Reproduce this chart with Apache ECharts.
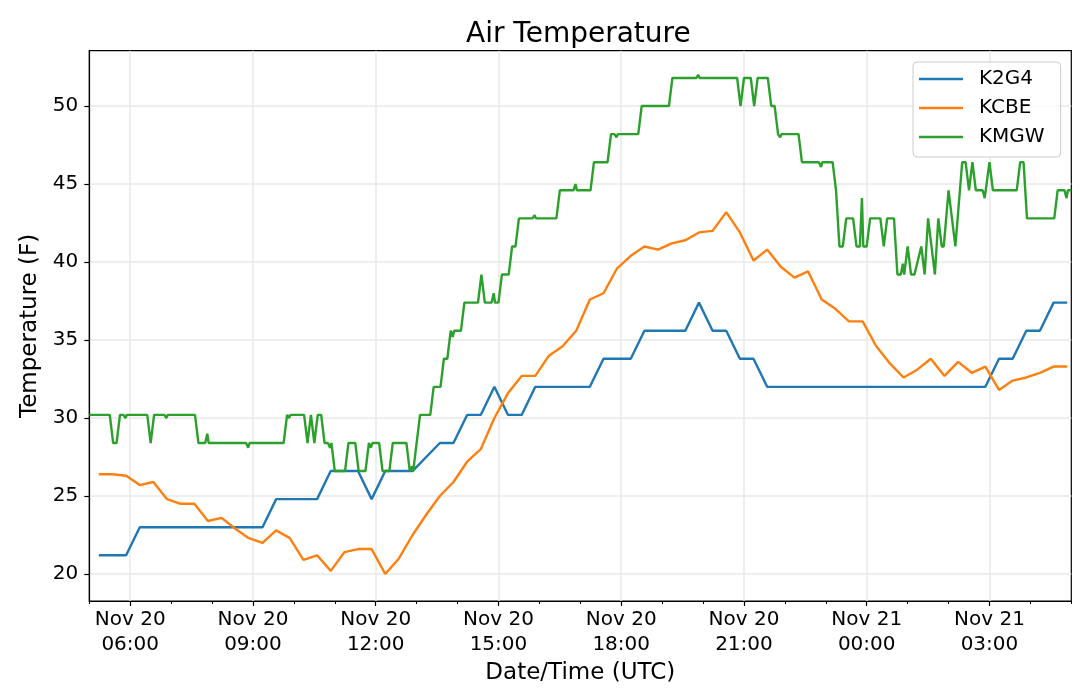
<!DOCTYPE html>
<html>
<head>
<meta charset="utf-8">
<title>Air Temperature</title>
<script src="https://cdn.jsdelivr.net/npm/echarts@6.0.0/dist/echarts.min.js"></script>
<style>
    html, body { margin: 0; padding: 0; background: #fff; }
    #chart { width: 1080px; height: 690px; }
</style>
</head>
<body>
<div id="chart"></div>
<script>
'use strict';

var stationNames = ['K2G4', 'KCBE', 'KMGW'];
var stationColors = ['#1f77b4', '#ff7f0e', '#2ca02c'];

// K2G4 and KCBE report every 20 minutes starting 05:14 UTC (72 reports)
var firstReport = '05:14';
var reportStepMin = 20;

var k2g4Temps = [
    21.2, 21.2, 21.2, 23.0, 23.0, 23.0, 23.0, 23.0, 23.0, 23.0,
    23.0, 23.0, 23.0, 24.8, 24.8, 24.8, 24.8, 26.6, 26.6, 26.6,
    24.8, 26.6, 26.6, 26.6, null, 28.4, 28.4, 30.2, 30.2, 32.0,
    30.2, 30.2, 32.0, 32.0, 32.0, 32.0, 32.0, 33.8, 33.8, 33.8,
    35.6, 35.6, 35.6, 35.6, 37.4, 35.6, 35.6, 33.8, 33.8, 32.0,
    32.0, 32.0, 32.0, 32.0, 32.0, 32.0, 32.0, 32.0, 32.0, 32.0,
    32.0, 32.0, 32.0, 32.0, 32.0, 32.0, 33.8, 33.8, 35.6, 35.6,
    37.4, 37.4
];

var kcbeTemps = [
    26.4, 26.4, 26.3, 25.7, 25.9, 24.8, 24.5, 24.5, 23.4, 23.6,
    22.9, 22.3, 22.0, 22.8, 22.3, 20.9, 21.2, 20.2, 21.4, 21.6,
    21.6, 20.0, 21.0, 22.5, 23.8, 25.0, 25.9, 27.2, 28.0, 30.0,
    31.6, 32.7, 32.7, 34.0, 34.6, 35.6, 37.6, 38.0, 39.6, 40.4,
    41.0, 40.8, 41.2, 41.4, 41.9, 42.0, 43.2, 41.9, 40.1, 40.8,
    39.7, 39.0, 39.4, 37.6, 37.0, 36.2, 36.2, 34.6, 33.5, 32.6,
    33.1, 33.8, 32.7, 33.6, 32.9, 33.3, 31.8, 32.4, 32.6, 32.9,
    33.3, 33.3
];

// KMGW: 5-minute reports plus hourly :53 reports (only the turning points)
var kmgwTimes = [
    '05:00', '05:30', '05:35', '05:40', '05:45', '05:50', '05:53', '05:55',
    '06:25', '06:30', '06:35', '06:50', '06:53', '06:55',
    '07:35', '07:40', '07:50', '07:53', '07:55',
    '08:50', '08:53', '08:55',
    '09:45', '09:50', '09:53', '09:55',
    '10:15', '10:20', '10:25', '10:30', '10:35', '10:40', '10:45', '10:50', '10:53', '10:55',
    '11:00', '11:15', '11:20', '11:30', '11:35', '11:45', '11:50', '11:53', '11:55',
    '12:05', '12:10', '12:20', '12:25', '12:45', '12:50', '12:53', '12:55',
    '13:05', '13:20', '13:25', '13:35', '13:40', '13:45', '13:50', '13:53', '13:55',
    '14:05', '14:10', '14:30', '14:35', '14:40', '14:50', '14:53', '14:55',
    '15:00', '15:05', '15:15', '15:20', '15:25', '15:30', '15:50', '15:53', '15:55',
    '16:25', '16:30', '16:50', '16:53', '16:55',
    '17:15', '17:20', '17:40', '17:45', '17:50', '17:53', '17:55',
    '18:25', '18:30',
    '19:10', '19:15', '19:50', '19:53', '19:55',
    '20:50', '20:55',
    '21:00', '21:10', '21:15', '21:20', '21:35', '21:40', '21:45', '21:50', '21:53', '21:55',
    '22:20', '22:25', '22:50', '22:53', '22:55',
    '23:10', '23:15', '23:20', '23:25', '23:30', '23:40', '23:45', '23:50', '23:53', '23:55',
    '00:00', '00:05', '00:20', '00:25', '00:30', '00:40', '00:45', '00:50', '00:53', '00:55',
    '01:00', '01:05', '01:10', '01:20', '01:25', '01:30', '01:40', '01:45', '01:50', '01:53', '01:55',
    '02:00', '02:10', '02:20', '02:25', '02:30', '02:35', '02:40', '02:50', '02:53',
    '03:00', '03:05', '03:40', '03:45', '03:50', '03:55',
    '04:35', '04:40', '04:50', '04:53', '04:55', '05:00'
];
var kmgwTemps = [
    30.2, 30.2, 28.4, 28.4, 30.2, 30.2, 30.0, 30.2,
    30.2, 28.4, 30.2, 30.2, 30.0, 30.2,
    30.2, 28.4, 28.4, 29.0, 28.4,
    28.4, 28.1, 28.4,
    28.4, 30.2, 30.0, 30.2,
    30.2, 28.4, 30.2, 28.4, 30.2, 30.2, 28.4, 28.4, 28.1, 28.4,
    26.6, 26.6, 28.4, 28.4, 26.6, 26.6, 28.4, 28.1, 28.4,
    28.4, 26.6, 26.6, 28.4, 28.4, 26.6, 26.9, 26.6,
    30.2, 30.2, 32.0, 32.0, 33.8, 33.8, 35.6, 35.2, 35.6,
    35.6, 37.4, 37.4, 39.2, 37.4, 37.4, 38.0, 37.4,
    37.4, 39.2, 39.2, 41.0, 41.0, 42.8, 42.8, 43.0, 42.8,
    42.8, 44.6, 44.6, 45.0, 44.6,
    44.6, 46.4, 46.4, 48.2, 48.2, 48.0, 48.2,
    48.2, 50.0,
    50.0, 51.8, 51.8, 52.0, 51.8,
    51.8, 50.0,
    51.8, 51.8, 50.0, 51.8, 51.8, 50.0, 50.0, 48.2, 48.0, 48.2,
    48.2, 46.4, 46.4, 46.1, 46.4,
    46.4, 44.6, 41.0, 41.0, 42.8, 42.8, 41.0, 41.0, 44.1, 41.0,
    41.0, 42.8, 42.8, 41.0, 42.8, 42.8, 39.2, 39.2, 39.9, 39.2,
    41.0, 39.2, 39.2, 41.0, 39.2, 42.8, 39.2, 42.8, 41.0, 41.0, 41.0,
    44.6, 41.0, 46.4, 46.4, 44.6, 46.4, 44.6, 44.6, 44.1,
    46.4, 44.6, 44.6, 46.4, 46.4, 42.8,
    42.8, 44.6, 44.6, 44.1, 44.6, 44.6
];

var yTicks = [20, 25, 30, 35, 40, 45, 50];
var xTickTimes = ['06:00', '09:00', '12:00', '15:00', '18:00', '21:00', '00:00', '03:00'];
var xTickDays = ['Nov 20', 'Nov 20', 'Nov 20', 'Nov 20', 'Nov 20', 'Nov 20', 'Nov 21', 'Nov 21'];

var HOUR = 3600 * 1000;
var startTime = Date.UTC(2019, 10, 20, 5, 0);   // Nov 20 05:00 UTC
var endTime = startTime + 24 * HOUR;

function clockMinutes(hhmm) {
    var p = hhmm.split(':');
    return +p[0] * 60 + +p[1];
}

// clock times after 05:00 that run past midnight belong to Nov 21
function clockToTime(hhmm) {
    var m = clockMinutes(hhmm) - 300;
    if (m < 0) m += 1440;
    return startTime + m * 60000;
}

function pairsFromSteps(first, stepMin, temps) {
    var t0 = clockToTime(first);
    return temps.map(function (v, i) {
        return [t0 + i * stepMin * 60000, v];
    });
}

function pairsFromClock(times, temps) {
    var out = [];
    var day = 0, last = -1;
    for (var i = 0; i < times.length; i++) {
        var m = clockMinutes(times[i]);
        if (m < last) day++;
        last = m;
        out.push([Date.UTC(2019, 10, 20 + day) + m * 60000, temps[i]]);
    }
    return out;
}

var majorTicks = xTickTimes.map(clockToTime);
var hourTicks = [];
for (var h = 0; h <= 24; h++) hourTicks.push(startTime + h * HOUR);

var seriesData = [
    pairsFromSteps(firstReport, reportStepMin, k2g4Temps),
    pairsFromSteps(firstReport, reportStepMin, kcbeTemps),
    pairsFromClock(kmgwTimes, kmgwTemps)
];

var font = 'DejaVu Sans';
var gridColor = '#e8e8e8';

var myChart = echarts.init(document.getElementById('chart'));

var option = {
    animation: false,
    textStyle: { fontFamily: font, color: '#000' },
    title: {
        text: 'Air Temperature',
        left: 466,
        top: 21,
        padding: 0,
        textStyle: { fontFamily: font, fontSize: 28, fontWeight: 'normal', color: '#000' }
    },
    legend: {
        orient: 'vertical',
        left: 913,
        top: 62,
        padding: [7, 16, 10, 6],
        itemWidth: 44,
        itemHeight: 2.4,
        itemGap: 9,
        icon: 'rect',
        backgroundColor: 'rgba(255,255,255,0.8)',
        borderColor: '#cccccc',
        borderWidth: 1,
        borderRadius: 4,
        formatter: '{n|{name}}',
        textStyle: {
            fontFamily: font,
            fontSize: 20,
            color: '#000',
            rich: { n: { fontFamily: font, fontSize: 20, color: '#000', padding: [0, 0, 0, 11] } }
        },
        data: stationNames
    },
    grid: {
        left: 89.3,
        right: 8.7,
        top: 50.7,
        bottom: 89,
        show: true,
        borderColor: '#000',
        borderWidth: 1.2,
        containLabel: false,
        outerBoundsMode: 'none'
    },
    xAxis: [
        {
            // milliseconds since epoch (UTC) on a plain value axis
            type: 'value',
            min: startTime,
            max: endTime,
            position: 'bottom',
            name: 'Date/Time (UTC)',
            nameLocation: 'middle',
            nameGap: 56,
            nameTextStyle: { fontFamily: font, fontSize: 23, color: '#000' },
            axisLine: { show: true, onZero: false, lineStyle: { color: '#000', width: 1.2 } },
            axisTick: { show: true, customValues: majorTicks, length: 5, lineStyle: { color: '#000', width: 1.2 } },
            axisLabel: {
                customValues: majorTicks,
                margin: 6,
                fontFamily: font,
                fontSize: 20,
                lineHeight: 25,
                color: '#000',
                formatter: function (val) {
                    var i = majorTicks.indexOf(val);
                    return i < 0 ? '' : xTickDays[i] + '\n' + xTickTimes[i];
                }
            },
            splitLine: { show: true, lineStyle: { color: gridColor, width: 1.5 } }
        },
        {
            // hourly minor ticks
            type: 'value',
            min: startTime,
            max: endTime,
            position: 'bottom',
            axisLine: { show: false, onZero: false },
            axisLabel: { show: false },
            axisTick: { show: true, customValues: hourTicks, length: 3, lineStyle: { color: '#000', width: 1 } },
            splitLine: { show: false }
        }
    ],
    yAxis: {
        type: 'value',
        min: 18.27,
        max: 53.55,
        name: 'Temperature (F)',
        nameLocation: 'middle',
        nameGap: 45,
        nameTextStyle: { fontFamily: font, fontSize: 23, color: '#000' },
        axisLine: { show: true, onZero: false, lineStyle: { color: '#000', width: 1.2 } },
        axisTick: { show: true, customValues: yTicks, length: 5, lineStyle: { color: '#000', width: 1.2 } },
        axisLabel: { customValues: yTicks, margin: 11, fontFamily: font, fontSize: 20, color: '#000' },
        splitLine: { show: true, lineStyle: { color: gridColor, width: 1.5 } }
    },
    series: stationNames.map(function (name, i) {
        return {
            name: name,
            type: 'line',
            xAxisIndex: 0,
            data: seriesData[i],
            symbol: 'none',
            showSymbol: false,
            connectNulls: true,
            lineStyle: { color: stationColors[i], width: 2.4 },
            itemStyle: { color: stationColors[i] }
        };
    })
};

myChart.setOption(option);

window.onresize = function () {
    myChart.resize();
};
</script>
</body>
</html>
